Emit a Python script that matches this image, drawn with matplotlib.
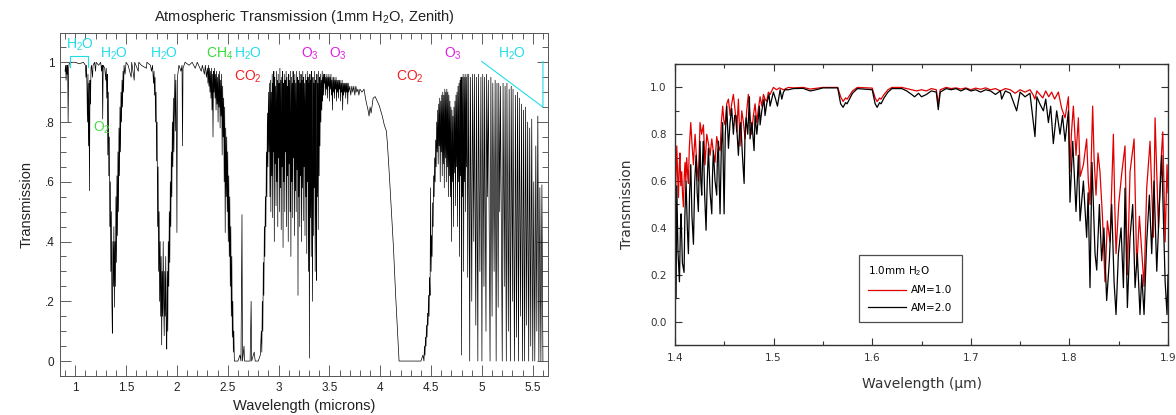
import matplotlib
matplotlib.use('Agg')
import matplotlib.pyplot as plt

plt.rcParams['mathtext.fontset'] = 'custom'
plt.rcParams['mathtext.rm'] = 'Liberation Sans'
plt.rcParams['mathtext.it'] = 'Liberation Sans:italic'

# ---------------- Left panel data: transmission spectrum (wavelength um, transmission) ----------------
seg_09_133 = [(0.90,0.97),(0.905,0.99),(0.91,0.94),(0.915,0.99),(0.92,0.96),(0.925,0.99),(0.93,0.80),(0.935,0.98),
              (0.94,0.995),(0.96,1.0),(1.0,1.0),(1.04,0.995),(1.08,1.0),(1.10,0.99),(1.105,0.95),(1.11,0.99),
              (1.115,0.92),(1.12,0.80),(1.125,0.96),(1.13,0.72),(1.135,0.93),(1.14,0.57),(1.145,0.94),(1.15,0.86),
              (1.155,0.98),(1.16,0.99),(1.17,0.95),(1.175,0.99),(1.19,1.0),(1.20,0.97),(1.205,1.0),(1.23,0.99),
              (1.25,1.0),(1.26,0.97),(1.265,0.99),(1.27,0.81),(1.275,0.99),(1.29,0.98),(1.30,0.94),(1.305,0.98),
              (1.31,0.88),(1.315,0.96),(1.32,0.69),(1.325,0.90),(1.33,0.62)]
seg_134_150 = [(1.335,0.75),(1.34,0.45),(1.345,0.60),(1.35,0.30),(1.355,0.50),(1.36,0.20),(1.365,0.093),(1.37,0.40),
               (1.375,0.25),(1.38,0.45),(1.385,0.18),(1.39,0.40),(1.395,0.25),(1.40,0.55),(1.405,0.33),(1.41,0.62),
               (1.415,0.42),(1.42,0.70),(1.425,0.50),(1.43,0.78),(1.435,0.62),(1.44,0.85),(1.445,0.70),(1.45,0.90),
               (1.455,0.80),(1.46,0.94),(1.465,0.85),(1.47,0.97),(1.475,0.90),(1.48,0.99),(1.49,0.96),(1.50,1.0)]
seg_150_182 = [(1.52,0.99),(1.55,0.95),(1.555,1.0),(1.58,0.94),(1.585,1.0),(1.62,0.97),(1.625,1.0),(1.65,0.99),
               (1.70,0.98),(1.705,1.0),(1.74,0.99),(1.75,0.97),(1.76,0.99),(1.77,0.93),(1.775,0.97),(1.78,0.89),
               (1.785,0.95),(1.79,0.80),(1.795,0.90),(1.80,0.67),(1.805,0.80),(1.81,0.45),(1.815,0.65)]
seg_182_208 = [(1.82,0.30),(1.825,0.50),(1.83,0.20),(1.835,0.40),(1.84,0.15),(1.845,0.35),(1.85,0.054),(1.855,0.30),
               (1.86,0.15),(1.865,0.40),(1.87,0.20),(1.875,0.085),(1.88,0.30),(1.885,0.15),(1.89,0.35),(1.895,0.10),
               (1.90,0.04),(1.905,0.30),(1.91,0.10),(1.915,0.40),(1.92,0.25),(1.925,0.50),(1.93,0.33),(1.935,0.60),
               (1.94,0.45),(1.945,0.70),(1.95,0.55),(1.955,0.80),(1.96,0.65),(1.965,0.88),(1.97,0.70),(1.975,0.85),
               (1.98,0.96),(1.985,0.77),(1.99,0.94),(1.995,0.80),(2.00,0.43),(2.005,0.95),(2.02,0.99),(2.04,0.97),
               (2.05,0.99),(2.055,0.72),(2.06,0.98),(2.08,1.0)]
seg_208_256 = [(2.12,0.99),(2.15,1.0),(2.18,0.98),(2.2,1.0),(2.24,0.97),(2.25,0.99),(2.27,0.96),(2.28,0.99),
               (2.29,0.95),(2.30,0.98),(2.305,0.93),(2.31,0.99),(2.315,0.92),(2.32,0.98),(2.325,0.90),(2.33,0.97),
               (2.335,0.88),(2.34,0.98),(2.345,0.84),(2.35,0.96),(2.355,0.75),(2.36,0.97),(2.365,0.90),(2.37,0.98),
               (2.375,0.88),(2.38,0.96),(2.385,0.84),(2.39,0.97),(2.395,0.86),(2.40,0.95),(2.405,0.80),(2.41,0.96),
               (2.415,0.85),(2.42,0.97),(2.425,0.78),(2.43,0.94),(2.435,0.82),(2.44,0.96),(2.445,0.69),(2.45,0.92),
               (2.455,0.75),(2.46,0.88),(2.465,0.60),(2.47,0.85),(2.475,0.43),(2.48,0.78),(2.485,0.55),(2.49,0.75),
               (2.495,0.50),(2.50,0.70),(2.505,0.40),(2.51,0.62),(2.515,0.35),(2.52,0.55),(2.525,0.25),(2.53,0.45),
               (2.535,0.15),(2.54,0.35),(2.545,0.08),(2.55,0.20),(2.555,0.03),(2.56,0.10),(2.565,0.0)]
seg_256_292 = [(2.60,0.0),(2.62,0.02),(2.63,0.0),(2.64,0.49),(2.645,0.0),(2.66,0.05),(2.665,0.0),(2.70,0.0),
               (2.72,0.0),(2.73,0.20),(2.735,0.0),(2.76,0.03),(2.77,0.0),(2.80,0.0),(2.82,0.02),(2.83,0.10),
               (2.835,0.03),(2.84,0.20),(2.845,0.10),(2.85,0.33),(2.855,0.22),(2.86,0.45),(2.865,0.35),(2.87,0.55),
               (2.875,0.45),(2.88,0.70),(2.885,0.55),(2.89,0.83),(2.895,0.65),(2.90,0.90),(2.905,0.70),(2.91,0.93)]
seg_292_345 = [(2.915,0.55),(2.92,0.94),(2.924,0.50),(2.928,0.90),(2.933,0.62),(2.937,0.96),(2.942,0.48),
               (2.946,0.93),(2.95,0.70),(2.953,0.97),(2.958,0.40),(2.962,0.95),(2.966,0.66),(2.97,0.92),(2.975,0.52),
               (2.979,0.97),(2.983,0.60),(2.988,0.94),(2.992,0.45),(2.996,0.96),(3.001,0.68),(3.005,0.93),
               (3.009,0.50),(3.013,0.98),(3.018,0.58),(3.022,0.94),(3.026,0.44),(3.031,0.95),(3.035,0.65),
               (3.039,0.97),(3.044,0.38),(3.048,0.93),(3.052,0.60),(3.056,0.96),(3.061,0.50),(3.065,0.94),
               (3.069,0.70),(3.074,0.97),(3.078,0.45),(3.082,0.95),(3.087,0.62),(3.091,0.92),(3.095,0.40),(3.1,0.96),
               (3.104,0.66),(3.108,0.94),(3.113,0.50),(3.117,0.97),(3.121,0.35),(3.126,0.95),(3.13,0.60),
               (3.134,0.93),(3.139,0.48),(3.143,0.97),(3.147,0.68),(3.152,0.94),(3.156,0.42),(3.16,0.96),
               (3.165,0.57),(3.169,0.93),(3.173,0.50),(3.178,0.97),(3.182,0.64),(3.186,0.95),(3.191,0.22),
               (3.195,0.94),(3.199,0.55),(3.204,0.97),(3.208,0.45),(3.212,0.93),(3.217,0.62),(3.221,0.96),
               (3.225,0.40),(3.23,0.94),(3.234,0.58),(3.238,0.97),(3.243,0.47),(3.247,0.95),(3.251,0.65),
               (3.256,0.93),(3.26,0.42),(3.264,0.96),(3.269,0.55),(3.273,0.94),(3.277,0.36),(3.282,0.97),(3.286,0.60),
               (3.29,0.95),(3.295,0.30),(3.299,0.93),(3.303,0.01),(3.308,0.96),(3.312,0.48),(3.316,0.94),(3.321,0.35),
               (3.325,0.97),(3.329,0.55),(3.334,0.20),(3.338,0.95),(3.342,0.42),(3.347,0.93),(3.351,0.58),
               (3.355,0.97),(3.36,0.30),(3.364,0.94),(3.368,0.50),(3.373,0.27),(3.377,0.96),(3.381,0.55),(3.386,0.93),
               (3.39,0.44),(3.394,0.97),(3.399,0.62),(3.403,0.95),(3.407,0.72),(3.412,0.96),(3.416,0.80),(3.42,0.94),
               (3.425,0.84),(3.429,0.97),(3.433,0.87),(3.438,0.95),(3.442,0.89),(3.446,0.96)]
seg_345_385 = [(3.45,0.93),(3.455,0.96),(3.46,0.89),(3.465,0.95),(3.47,0.91),(3.475,0.96),(3.48,0.88),(3.485,0.95),
               (3.49,0.92),(3.495,0.96),(3.50,0.87),(3.505,0.95),(3.51,0.91),(3.515,0.96),(3.52,0.89),(3.525,0.94),
               (3.53,0.84),(3.535,0.95),(3.54,0.90),(3.545,0.95),(3.55,0.88),(3.555,0.94),(3.56,0.91),(3.565,0.95),
               (3.57,0.87),(3.575,0.94),(3.58,0.90),(3.585,0.94),(3.59,0.88),(3.595,0.94),(3.60,0.91),(3.605,0.94),
               (3.61,0.87),(3.615,0.93),(3.62,0.90),(3.625,0.94),(3.63,0.84),(3.635,0.93),(3.64,0.89),(3.645,0.93),
               (3.65,0.90),(3.655,0.93),(3.66,0.88),(3.665,0.93),(3.67,0.90),(3.675,0.93),(3.68,0.86),(3.685,0.93),
               (3.69,0.90),(3.70,0.92),(3.71,0.89),(3.72,0.92),(3.73,0.90),(3.74,0.92),(3.75,0.89),(3.76,0.92),
               (3.77,0.90),(3.78,0.91),(3.79,0.89),(3.80,0.91),(3.82,0.90),(3.84,0.91)]
seg_385_443 = [(3.86,0.87),(3.88,0.84),(3.89,0.82),(3.90,0.85),(3.91,0.83),(3.93,0.88),(3.95,0.885),(3.97,0.87),
               (3.99,0.855),(4.02,0.82),(4.04,0.79),(4.06,0.77),(4.07,0.73),(4.09,0.62),(4.11,0.50),(4.13,0.38),
               (4.15,0.23),(4.17,0.10),(4.185,0.0),(4.30,0.0),(4.40,0.0),(4.42,0.02),(4.43,0.0)]
seg_443_468 = [(4.435,0.05),(4.44,0.02),(4.445,0.08),(4.45,0.05),(4.455,0.12),(4.46,0.08),(4.465,0.16),(4.47,0.12),
               (4.475,0.22),(4.48,0.15),(4.485,0.28),(4.49,0.22),(4.495,0.58),(4.50,0.30),(4.505,0.42),(4.51,0.35),
               (4.515,0.53),(4.52,0.45),(4.525,0.62),(4.53,0.55),(4.535,0.68),(4.54,0.60),(4.545,0.74),(4.55,0.65),
               (4.555,0.80),(4.56,0.70),(4.565,0.84),(4.57,0.66),(4.575,0.86),(4.58,0.72),(4.585,0.88),(4.59,0.60),
               (4.595,0.87),(4.60,0.70),(4.605,0.89),(4.61,0.62),(4.615,0.90),(4.62,0.66),(4.625,0.89),(4.63,0.58),
               (4.635,0.91),(4.64,0.68),(4.645,0.90),(4.65,0.60),(4.655,0.91),(4.66,0.65),(4.665,0.90),(4.67,0.55),
               (4.675,0.89)]
seg_468_560 = [(4.68,0.62),(4.685,0.87),(4.69,0.55),(4.695,0.85),(4.70,0.40),(4.705,0.84),(4.71,0.60),(4.715,0.82),
               (4.72,0.45),(4.725,0.85),(4.73,0.63),(4.735,0.87),(4.74,0.52),(4.745,0.89),(4.75,0.65),(4.755,0.90),
               (4.76,0.45),(4.765,0.92),(4.77,0.60),(4.775,0.93),(4.78,0.35),(4.785,0.94),(4.79,0.62),(4.795,0.95),
               (4.80,0.02),(4.805,0.95),(4.81,0.55),(4.815,0.96),(4.82,0.30),(4.825,0.95),(4.83,0.60),(4.835,0.96),
               (4.84,0.50),(4.845,0.95),(4.85,0.65),(4.855,0.96),(4.86,0.28),(4.87,0.96),(4.88,0.0),(4.887,0.95),
               (4.90,0.20),(4.908,0.96),(4.92,0.40),(4.926,0.96),(4.94,0.12),(4.947,0.95),(4.96,0.0),(4.966,0.96),
               (4.98,0.30),(4.99,0.95),(5.00,0.0),(5.008,0.96),(5.02,0.25),(5.026,0.95),(5.04,0.10),(5.046,0.96),
               (5.055,0.55),(5.063,0.94),(5.08,0.0),(5.088,0.95),(5.10,0.15),(5.107,0.93),(5.12,0.30),(5.13,0.94),
               (5.14,0.0),(5.148,0.93),(5.16,0.18),(5.166,0.93),(5.175,0.50),(5.182,0.92),(5.20,0.0),(5.208,0.93),
               (5.22,0.25),(5.228,0.92),(5.24,0.0),(5.246,0.93),(5.26,0.10),(5.268,0.91),(5.28,0.0),(5.288,0.92),
               (5.30,0.20),(5.306,0.91),(5.32,0.0),(5.33,0.89),(5.34,0.08),(5.35,0.90),(5.36,0.0),(5.368,0.88),
               (5.38,0.15),(5.39,0.86),(5.40,0.0),(5.41,0.84),(5.42,0.0),(5.43,0.85),(5.44,0.12),(5.45,0.80),
               (5.46,0.0),(5.47,0.78),(5.48,0.05),(5.49,0.81),(5.50,0.0),(5.51,0.60),(5.52,0.0),(5.53,0.72),
               (5.54,0.10),(5.55,0.82),(5.56,0.0),(5.57,0.58),(5.58,0.0),(5.59,0.59),(5.60,0.0)]

left_segments = [seg_09_133, seg_134_150, seg_150_182, seg_182_208, seg_208_256, seg_256_292,
                 seg_292_345, seg_345_385, seg_385_443, seg_443_468, seg_468_560]

left_xticks = [1, 1.5, 2, 2.5, 3, 3.5, 4, 4.5, 5, 5.5]
left_xticklabels = ['1', '1.5', '2', '2.5', '3', '3.5', '4', '4.5', '5', '5.5']
left_yticks = [0, 0.2, 0.4, 0.6, 0.8, 1.0]
left_yticklabels = ['0', '.2', '.4', '.6', '.8', '1']

# molecule annotations: (text, x, y, colour)
molecule_labels = [
    ('H$_2$O', 1.045, 1.058, '#22dde8'),
    ('H$_2$O', 1.38, 1.027, '#22dde8'),
    ('H$_2$O', 1.873, 1.027, '#22dde8'),
    ('CH$_4$', 2.42, 1.027, '#33dd33'),
    ('H$_2$O', 2.70, 1.027, '#22dde8'),
    ('CO$_2$', 2.70, 0.950, '#ee2222'),
    ('O$_3$', 3.31, 1.027, '#e020e0'),
    ('O$_3$', 3.58, 1.027, '#e020e0'),
    ('CO$_2$', 4.29, 0.950, '#ee2222'),
    ('O$_3$', 4.71, 1.027, '#e020e0'),
    ('H$_2$O', 5.30, 1.027, '#22dde8'),
    ('O$_2$', 1.267, 0.78, '#44dd44'),
]
bracket_x = [0.948, 0.948, 1.128, 1.128]
bracket_y = [0.985, 1.020, 1.020, 0.985]
h2o_edge_x = [4.998, 5.60, 5.60]
h2o_edge_y = [1.003, 0.85, 1.003]

# ---------------- Right panel data: 1.0 mm H2O, two airmasses ----------------
am1_pts = [(1.400,0.26),(1.4009,0.60),(1.4018,0.75),(1.4027,0.62),(1.4035,0.53),(1.4043,0.66),(1.405,0.72),
           (1.4059,0.58),(1.4068,0.64),(1.4076,0.55),(1.4085,0.49),(1.4094,0.62),(1.4102,0.68),(1.411,0.60),
           (1.4119,0.70),(1.4128,0.63),(1.4136,0.59),(1.4145,0.74),(1.416,0.85),(1.4172,0.76),(1.4187,0.67),
           (1.4195,0.74),(1.4204,0.80),(1.422,0.68),(1.4237,0.60),(1.4245,0.72),(1.4254,0.85),(1.427,0.80),
           (1.4288,0.84),(1.4305,0.67),(1.4322,0.80),(1.4339,0.76),(1.4356,0.71),(1.4373,0.78),(1.439,0.72),
           (1.4406,0.68),(1.4423,0.79),(1.444,0.75),(1.4457,0.73),(1.447,0.85),(1.4484,0.92),(1.4495,0.86),
           (1.4508,0.84),(1.4525,0.93),(1.4542,0.95),(1.4559,0.88),(1.4575,0.93),(1.4592,0.97),(1.461,0.90),
           (1.4626,0.81),(1.4643,0.95),(1.466,0.75),(1.4677,0.90),(1.4694,0.85),(1.4711,0.78),(1.4727,0.90),
           (1.4744,0.97),(1.4761,0.88),(1.4778,0.80),(1.4795,0.88),(1.4812,0.93),(1.4829,0.85),(1.4846,0.91),
           (1.4863,0.96),(1.488,0.92),(1.4897,0.97),(1.4913,0.95),(1.493,0.94),(1.4947,0.98),(1.4964,0.97),
           (1.4998,1.0),(1.503,0.99),(1.506,0.998),(1.51,0.99),(1.515,1.0),(1.52,0.998),(1.53,1.0),(1.537,0.993),
           (1.543,0.996),(1.55,1.0),(1.565,1.0),(1.568,0.96),(1.5705,0.94),(1.573,0.955),(1.5745,0.95),
           (1.577,0.965),(1.58,0.985),(1.585,1.0),(1.60,0.997),(1.603,0.955),(1.605,0.94),(1.6075,0.955),
           (1.609,0.95),(1.612,0.97),(1.616,0.99),(1.62,1.0),(1.63,1.0),(1.635,0.995),(1.64,0.99),(1.645,0.985),
           (1.65,0.99),(1.655,0.985),(1.66,0.995),(1.665,0.99),(1.667,0.93),(1.669,0.99),(1.675,1.0),(1.68,0.995),
           (1.685,0.998),(1.69,0.993),(1.695,0.998),(1.70,0.99),(1.705,0.997),(1.71,0.992),(1.715,0.998),
           (1.72,0.99),(1.725,0.995),(1.73,0.985),(1.735,0.995),(1.74,0.99),(1.745,0.975),(1.75,0.99),(1.755,0.98),
           (1.76,0.99),(1.763,0.97),(1.765,0.95),(1.767,0.985),(1.77,0.97),(1.773,0.955),(1.776,0.985),
           (1.779,0.96),(1.782,0.98),(1.785,0.95),(1.7888,0.98),(1.7922,0.91),(1.7956,0.87),(1.799,0.96),
           (1.8006,0.64),(1.802,0.80),(1.804,0.92),(1.8067,0.71),(1.8091,0.87),(1.811,0.62),(1.8142,0.67),
           (1.8175,0.78),(1.8192,0.60),(1.8209,0.50),(1.8236,0.92),(1.825,0.70),(1.827,0.54),(1.829,0.72),
           (1.831,0.64),(1.8335,0.45),(1.8361,0.17),(1.8385,0.43),(1.8412,0.34),(1.8446,0.80),(1.846,0.50),
           (1.8473,0.29),(1.850,0.50),(1.853,0.63),(1.8564,0.75),(1.8588,0.20),(1.8615,0.64),(1.8656,0.78),
           (1.8683,0.23),(1.871,0.45),(1.8734,0.30),(1.8757,0.15),(1.8784,0.57),(1.8818,0.77),(1.8852,0.36),
           (1.8869,0.87),(1.8903,0.40),(1.8927,0.67),(1.8947,0.81),(1.8971,0.34),(1.899,0.67),(1.9,0.55)]
am2_pts = [(1.400,0.50),(1.4011,0.10),(1.4018,0.58),(1.403,0.30),(1.4045,0.17),(1.4055,0.40),(1.4062,0.46),
           (1.4075,0.25),(1.4092,0.21),(1.410,0.45),(1.4112,0.60),(1.4125,0.40),(1.4136,0.29),(1.4148,0.55),
           (1.416,0.67),(1.4172,0.45),(1.4187,0.33),(1.420,0.60),(1.4214,0.71),(1.4225,0.55),(1.4237,0.47),
           (1.4245,0.65),(1.4254,0.77),(1.4262,0.60),(1.4271,0.54),(1.428,0.70),(1.4288,0.77),(1.430,0.55),
           (1.4315,0.39),(1.4327,0.60),(1.4339,0.74),(1.4356,0.55),(1.4373,0.46),(1.438,0.62),(1.4389,0.73),
           (1.4406,0.60),(1.4423,0.54),(1.443,0.70),(1.444,0.77),(1.4448,0.60),(1.4457,0.46),(1.447,0.75),
           (1.4484,0.85),(1.449,0.65),(1.4498,0.46),(1.451,0.80),(1.4525,0.92),(1.4542,0.74),(1.4558,0.85),
           (1.4575,0.91),(1.4592,0.80),(1.4605,0.88),(1.4619,0.88),(1.4643,0.71),(1.4655,0.82),(1.4667,0.85),
           (1.4685,0.70),(1.4701,0.59),(1.471,0.80),(1.4721,0.87),(1.4738,0.80),(1.4755,0.96),(1.4761,0.78),
           (1.478,0.85),(1.4802,0.73),(1.4812,0.88),(1.483,0.80),(1.4856,0.92),(1.4863,0.84),(1.488,0.90),
           (1.4903,0.95),(1.4913,0.88),(1.493,0.93),(1.4954,0.97),(1.4964,0.92),(1.4998,0.98),(1.502,0.95),
           (1.5039,0.92),(1.5066,0.99),(1.5083,0.95),(1.51,0.98),(1.5116,0.99),(1.515,0.99),(1.52,0.995),
           (1.53,0.996),(1.537,0.985),(1.543,0.99),(1.55,0.998),(1.565,0.998),(1.568,0.93),(1.5705,0.915),
           (1.573,0.935),(1.5745,0.93),(1.577,0.95),(1.58,0.975),(1.585,0.995),(1.60,0.99),(1.603,0.93),
           (1.605,0.915),(1.6075,0.935),(1.609,0.93),(1.612,0.955),(1.616,0.98),(1.62,0.995),(1.63,0.995),
           (1.635,0.985),(1.64,0.97),(1.643,0.96),(1.647,0.975),(1.65,0.96),(1.655,0.97),(1.66,0.985),
           (1.665,0.98),(1.667,0.905),(1.669,0.98),(1.675,0.995),(1.68,0.99),(1.685,0.995),(1.69,0.985),
           (1.695,0.995),(1.70,0.985),(1.705,0.99),(1.71,0.98),(1.715,0.99),(1.72,0.985),(1.725,0.97),
           (1.73,0.985),(1.7313,0.95),(1.735,0.985),(1.74,0.975),(1.7465,0.90),(1.75,0.98),(1.755,0.96),
           (1.76,0.975),(1.7651,0.79),(1.767,0.96),(1.770,0.93),(1.7736,0.90),(1.776,0.95),(1.7787,0.85),
           (1.781,0.92),(1.7837,0.76),(1.7871,0.90),(1.7905,0.80),(1.793,0.88),(1.7956,0.77),(1.799,0.90),
           (1.8006,0.51),(1.8034,0.77),(1.8067,0.47),(1.8091,0.71),(1.8108,0.43),(1.8142,0.60),(1.8175,0.36),
           (1.819,0.55),(1.8209,0.145),(1.8229,0.68),(1.826,0.29),(1.8277,0.22),(1.8304,0.50),(1.8327,0.26),
           (1.8350,0.40),(1.8378,0.09),(1.8405,0.26),(1.8429,0.50),(1.8453,0.17),(1.8473,0.03),(1.8497,0.29),
           (1.8524,0.40),(1.8548,0.145),(1.8564,0.57),(1.8588,0.06),(1.8615,0.36),(1.8642,0.50),(1.8666,0.145),
           (1.8689,0.29),(1.8716,0.03),(1.8734,0.20),(1.8757,0.03),(1.8784,0.34),(1.8811,0.54),(1.8835,0.29),
           (1.8858,0.60),(1.8886,0.215),(1.8913,0.50),(1.8937,0.71),(1.8954,0.43),(1.8971,0.17),(1.899,0.03),
           (1.9,0.20)]

right_xticks = [1.4, 1.5, 1.6, 1.7, 1.8, 1.9]
right_xticklabels = ['1.4', '1.5', '1.6', '1.7', '1.8', '1.9']
right_yticks = [0.0, 0.2, 0.4, 0.6, 0.8, 1.0]
right_yticklabels = ['0.0', '0.2', '0.4', '0.6', '0.8', '1.0']
series_labels = ['AM=1.0', 'AM=2.0']
legend_title = '1.0mm H$_2$O'

# ---------------- Figure ----------------
W, H = 1176, 415
fig = plt.figure(figsize=(W / 100, H / 100), dpi=100)
fig.patch.set_facecolor('white')

# Left panel
ax1 = fig.add_axes([60 / W, 1 - 376 / H, (548 - 60) / W, (376 - 33) / H])
lw_x, lw_y = [], []
for seg in left_segments:
    for x, y in seg:
        lw_x.append(x)
        lw_y.append(y)
ax1.plot(lw_x, lw_y, color='black', lw=0.5)
ax1.set_xlim(0.85, 5.65)
ax1.set_ylim(-0.05, 1.098)
ax1.set_xticks(left_xticks)
ax1.set_xticklabels(left_xticklabels)
ax1.set_yticks(left_yticks)
ax1.set_yticklabels(left_yticklabels)
ax1.xaxis.set_minor_locator(plt.MultipleLocator(0.1))
ax1.yaxis.set_minor_locator(plt.MultipleLocator(0.05))
ax1.tick_params(which='both', direction='in', top=True, right=True, width=0.6, color='#444444',
                labelsize=8.5, labelcolor='#222222', pad=4)
ax1.tick_params(which='major', length=8)
ax1.tick_params(which='minor', length=4)
for sp in ax1.spines.values():
    sp.set_linewidth(0.7)
    sp.set_color('#555555')
for t in ax1.get_xticklabels() + ax1.get_yticklabels():
    t.set_family('Liberation Sans')
ax1.set_title('Atmospheric Transmission (1mm H$_2$O, Zenith)', family='Liberation Sans', fontsize=10.5,
              color='#222222', pad=9)
ax1.set_xlabel('Wavelength (microns)', family='Liberation Sans', fontsize=10.5, color='#222222', labelpad=4)
ax1.set_ylabel('Transmission', family='Liberation Sans', fontsize=10.5, color='#222222', labelpad=8)

for text, x, y, col in molecule_labels:
    ax1.text(x, y, text, color=col, fontsize=10, family='Liberation Sans', ha='center', va='center')
ax1.plot(bracket_x, bracket_y, color='#22dde8', lw=0.8)
ax1.plot(h2o_edge_x, h2o_edge_y, color='#22dde8', lw=0.8)

# Right panel
ax2 = fig.add_axes([675 / W, 1 - 345 / H, (1168 - 675) / W, (345 - 64) / H])
r_x = [p[0] for p in am1_pts]
r_y = [p[1] for p in am1_pts]
k_x = [p[0] for p in am2_pts]
k_y = [p[1] for p in am2_pts]
l1, = ax2.plot(r_x, r_y, color='#e00000', lw=0.9)
l2, = ax2.plot(k_x, k_y, color='black', lw=0.9)
ax2.set_xlim(1.4, 1.9)
ax2.set_ylim(-0.1, 1.1)
ax2.set_xticks(right_xticks)
ax2.set_xticklabels(right_xticklabels)
ax2.set_yticks(right_yticks)
ax2.set_yticklabels(right_yticklabels)
ax2.xaxis.set_minor_locator(plt.MultipleLocator(0.05))
ax2.yaxis.set_minor_locator(plt.MultipleLocator(0.1))
ax2.tick_params(which='both', direction='in', top=True, right=True, width=0.8, color='#333333',
                labelsize=7.5, labelcolor='#333333', pad=6)
ax2.tick_params(which='major', length=5)
ax2.tick_params(which='minor', length=3)
for sp in ax2.spines.values():
    sp.set_linewidth(1.0)
    sp.set_color('#333333')
ax2.set_xlabel('Wavelength (μm)', family='DejaVu Sans', fontsize=10, color='#333333', labelpad=10)
ax2.set_ylabel('Transmission', family='DejaVu Sans', fontsize=10, color='#333333', labelpad=12)

leg = ax2.legend([l1, l2], series_labels, title=legend_title, loc='lower left',
                 bbox_to_anchor=(0.373, 0.082), frameon=True, fancybox=False, edgecolor='#222222',
                 fontsize=7.5, title_fontsize=7.5, alignment='left', borderpad=0.9, labelspacing=0.7,
                 handlelength=3.6, handletextpad=0.5, borderaxespad=0.0)
leg.get_frame().set_linewidth(0.9)
leg.get_frame().set_facecolor('white')

fig.savefig('out.png', dpi=100, facecolor='white')
